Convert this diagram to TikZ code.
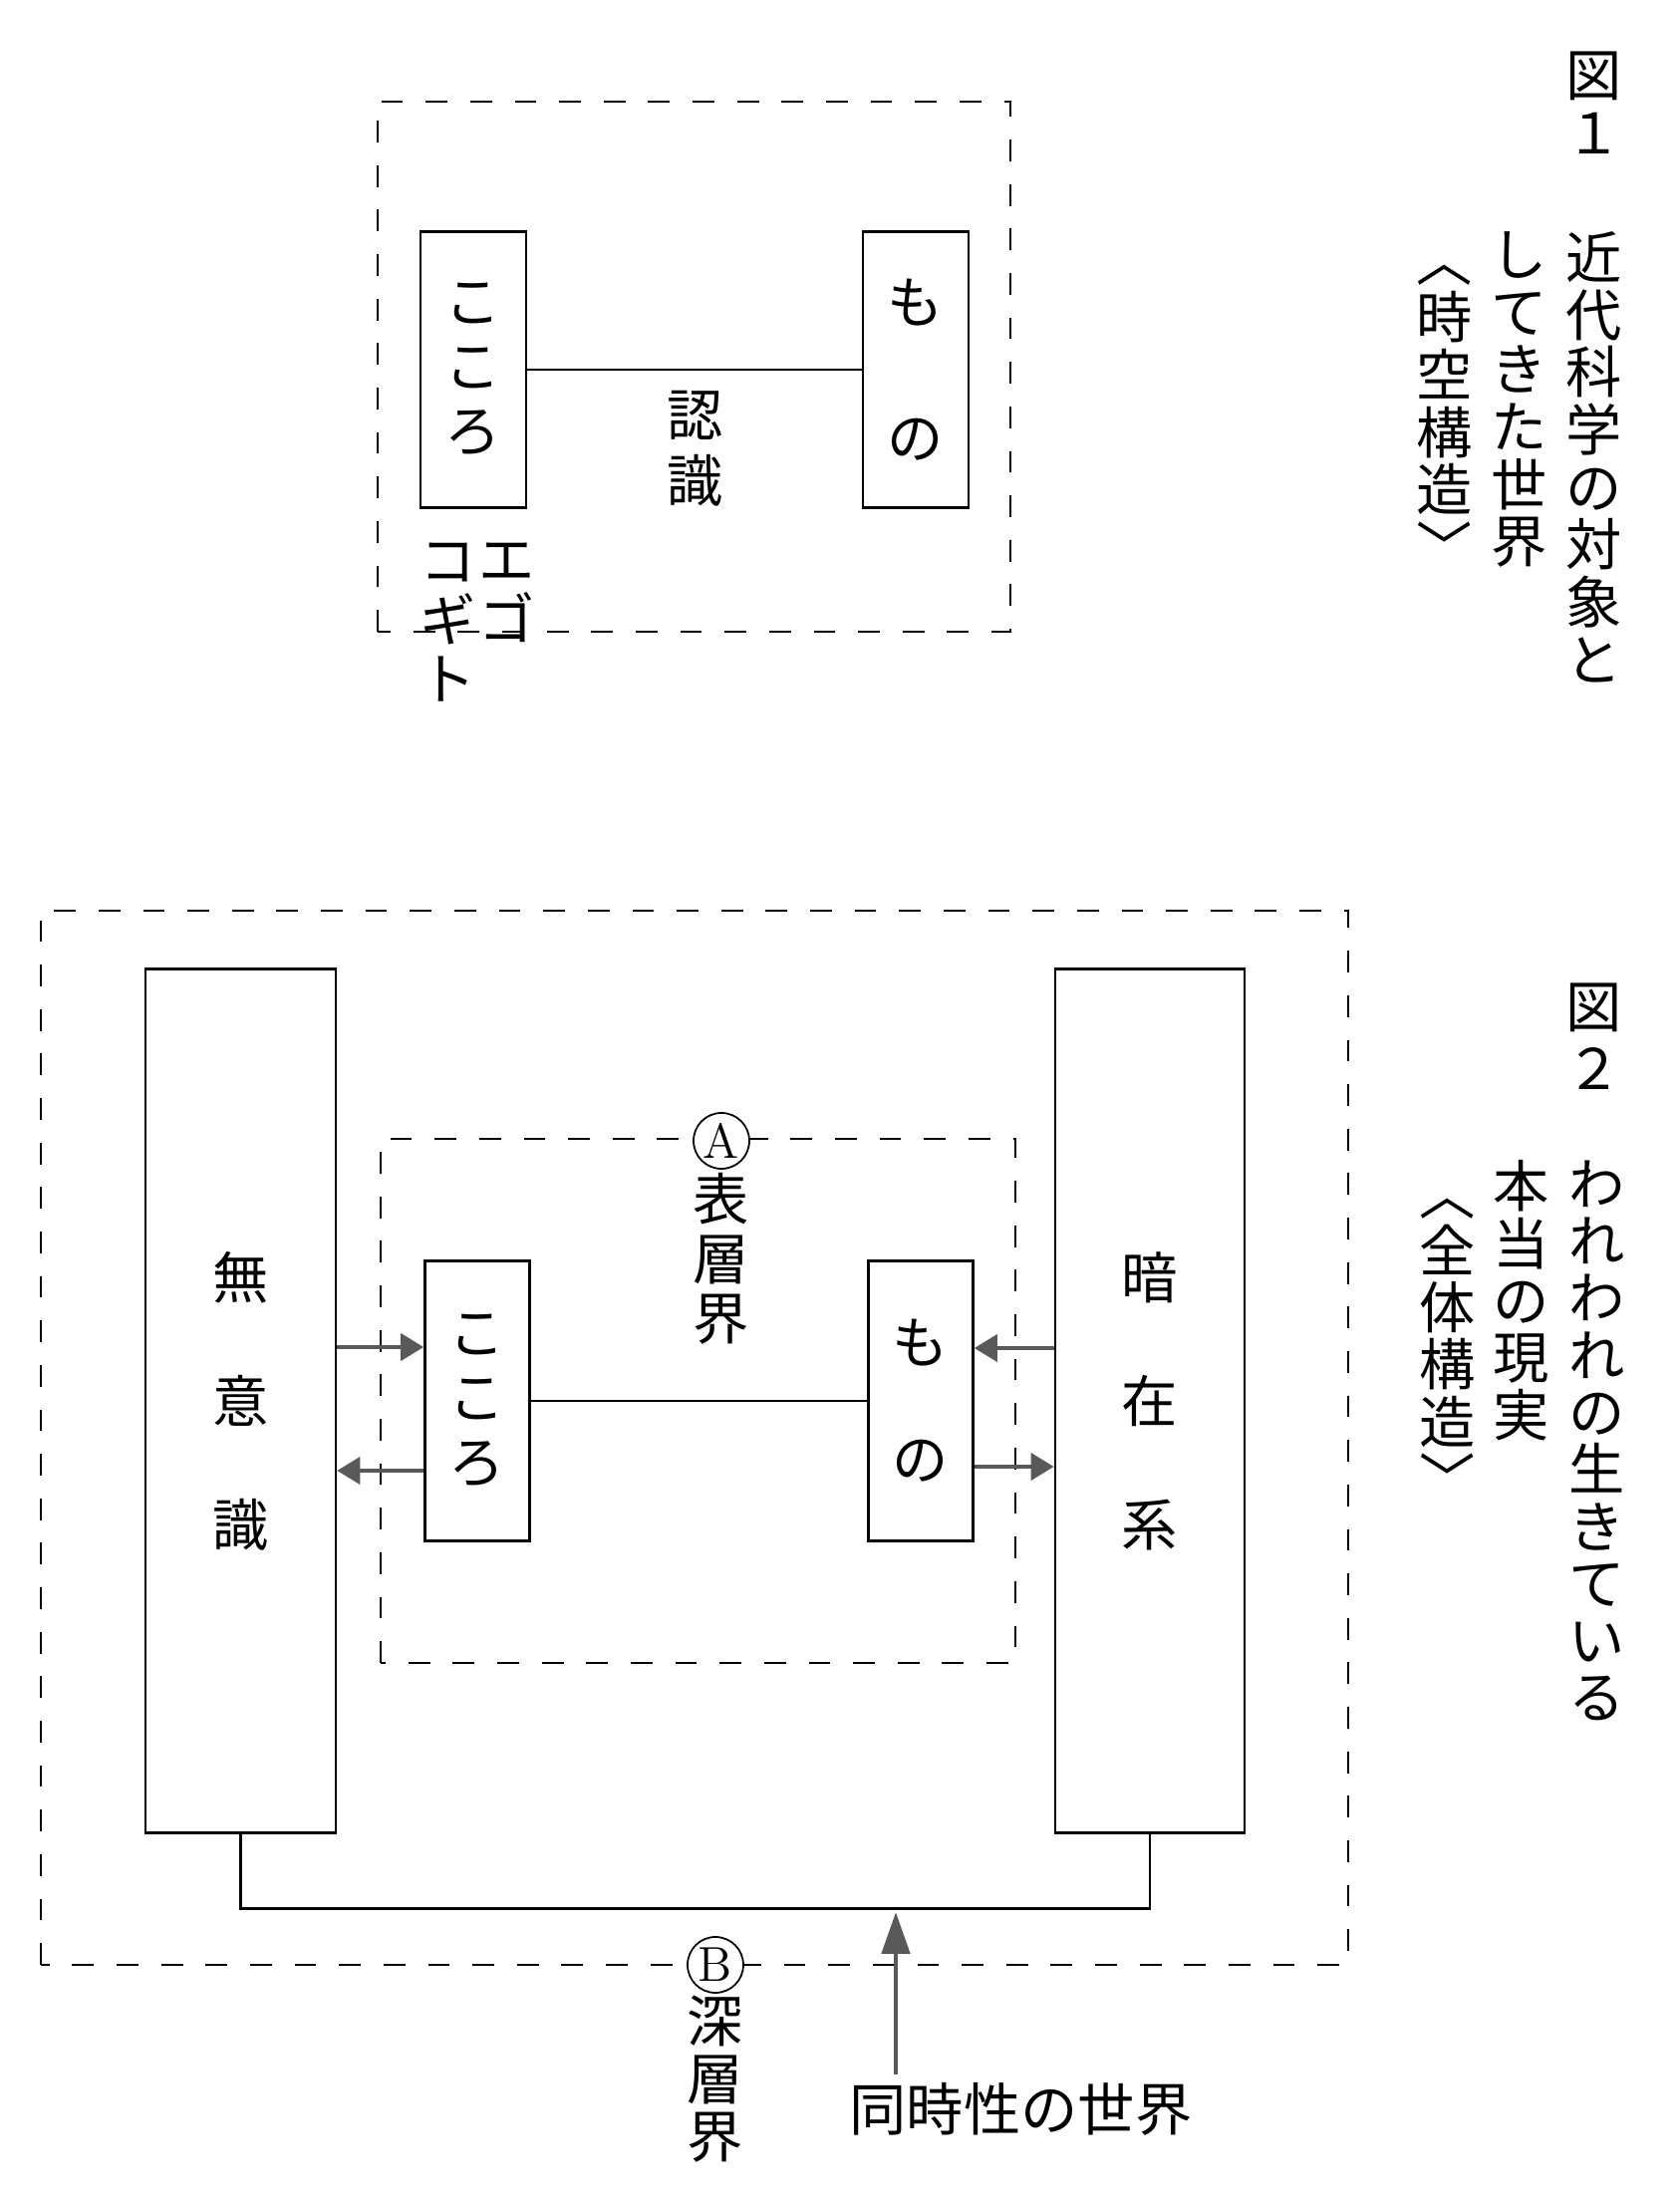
\documentclass[tikz,border=0pt]{standalone}
\usepackage{fontspec}
\usepackage{tikz}
\usetikzlibrary{arrows.meta}
\newfontfamily\jp{Noto Sans CJK JP}

\begin{document}
\begin{tikzpicture}[
  box/.style={draw, line width=0.75pt, inner sep=0pt},
  frame/.style={draw, line width=0.6pt, dash pattern=on 6.2pt off 6.5pt},
  vcol/.style={inner sep=0pt, align=center, font=\jp\fontsize{16}{#1}\selectfont},
  vcol/.default=16.4,
  flow/.style={draw=black!65, line width=1.1pt, -{Triangle[length=0.23cm, width=0.27cm]}},
  bigflow/.style={draw=black!65, line width=1.4pt, -{Triangle[length=0.42cm, width=0.28cm]}},
  circled/.style={draw, circle, fill=white, inner sep=0pt, minimum size=0.56cm, line width=0.5pt, font=\fontsize{14}{14}\selectfont}
]
\useasboundingbox (0,0) rectangle (16.86,22.10);

% -------------------------
% Figure 1
% -------------------------
\draw[frame] (3.79,15.76) rectangle (10.14,21.08);

\node[box, vcol=18.5, minimum width=1.06cm, minimum height=2.77cm] (kokoroOne) at (4.75,18.39) {こ\\こ\\ろ};
\node[box, vcol=38.7, minimum width=1.06cm, minimum height=2.77cm] (monoOne) at (9.19,18.39) {も\\の};

\draw[line width=0.75pt] (kokoroOne) -- (monoOne);

\node[vcol=18.8] (ninshiki) at (6.98,17.60) {認\\識};
\node[vcol=17, anchor=north] (ego) at (5.09,16.66) {エ\\ゴ};
\node[vcol=17, anchor=north] (cogito) at (4.50,16.66) {コ\\ギ\\ト};

% -------------------------
% Figure 1 caption
% -------------------------
\node[vcol=16.5] (figOne) at (16.00,21.07) {図\\１};
\node[vcol, anchor=north] (titleOneA) at (16.00,19.78) {近\\代\\科\\学\\の\\対\\象\\と};
\node[vcol, anchor=north] (titleOneB) at (15.25,19.78) {し\\て\\き\\た\\世\\界};
\node[vcol, anchor=north] (titleOneC) at (14.50,19.45) {︿\\時\\空\\構\\造\\﹀};

% -------------------------
% Figure 2 frames
% -------------------------
\draw[frame] (0.41,2.38) rectangle (13.53,12.96);
\draw[frame] (3.82,5.41) rectangle (10.19,10.67);

\node[circled] (markA) at (7.24,10.65) {A};
\node[vcol=17, anchor=north] (hyousou) at (7.24,10.33) {表\\層\\界};
\node[circled] (markB) at (7.18,2.38) {B};
\node[vcol=16.5, anchor=north] (shinsou) at (7.18,2.08) {深\\層\\界};

% -------------------------
% Figure 2 boxes
% -------------------------
\node[box, vcol=35.3, minimum width=1.91cm, minimum height=8.67cm] (muishiki) at (2.415,8.04) {無\\意\\識};
\node[box, vcol=35.3, minimum width=1.9cm, minimum height=8.67cm] (anzaikei) at (11.54,8.04) {暗\\在\\系};
\node[box, vcol=18.5, minimum width=1.05cm, minimum height=2.81cm] (kokoroTwo) at (4.79,8.04) {こ\\こ\\ろ};
\node[box, vcol=33.3, minimum width=1.05cm, minimum height=2.81cm] (monoTwo) at (9.24,8.04) {も\\の};

\draw[line width=0.75pt] (kokoroTwo) -- (monoTwo);

% -------------------------
% Arrows between layers
% -------------------------
\draw[flow] ([yshift=0.54cm]muishiki.east) -- ([yshift=0.54cm]kokoroTwo.west);
\draw[flow] ([yshift=-0.70cm]kokoroTwo.west) -- ([yshift=-0.70cm]muishiki.east);
\draw[flow] ([yshift=0.53cm]anzaikei.west) -- ([yshift=0.53cm]monoTwo.east);
\draw[flow] ([yshift=-0.66cm]monoTwo.east) -- ([yshift=-0.66cm]anzaikei.west);

\draw[line width=0.75pt] (muishiki.south) -- ++(0,-0.745) -| (anzaikei.south);

\coordinate (meet) at (8.99,2.91);
\coordinate (arrowFoot) at (8.99,1.28);
\node[inner sep=0pt, anchor=west, font=\jp\fontsize{16.3}{16.3}\selectfont] (doujisei) at (8.52,0.93) {同時性の世界};
\draw[bigflow] (arrowFoot) -- (meet);

% -------------------------
% Figure 2 caption
% -------------------------
\node[vcol=17.6] (figTwo) at (16.00,11.70) {図\\２};
\node[vcol=16.3, anchor=north] (titleTwoA) at (16.03,10.46) {わ\\れ\\わ\\れ\\の\\生\\き\\て\\い\\る};
\node[vcol=16.3, anchor=north] (titleTwoB) at (15.27,10.46) {本\\当\\の\\現\\実};
\node[vcol=16.3, anchor=north] (titleTwoC) at (14.53,10.08) {︿\\全\\体\\構\\造\\﹀};

\end{tikzpicture}
\end{document}
